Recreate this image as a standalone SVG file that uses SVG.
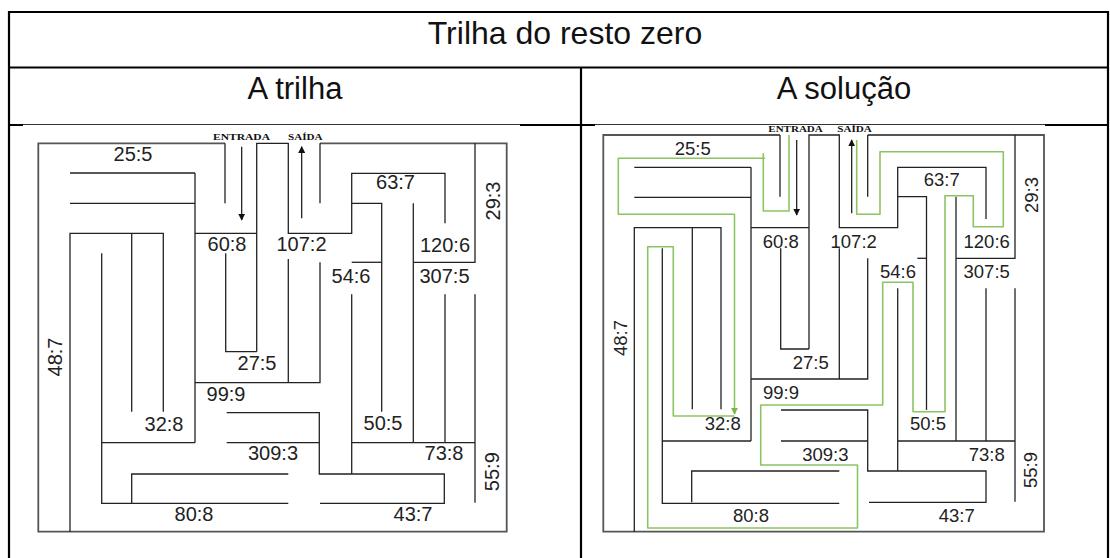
<svg xmlns="http://www.w3.org/2000/svg" width="1110" height="558" viewBox="0 0 1110 558">
<defs>
<style>
.tb{stroke:#000;stroke-width:2.2;fill:none}
.tn{stroke:#333;stroke-width:1;fill:none}
.hd{font-family:"Liberation Sans",Arial,sans-serif;fill:#111;text-anchor:middle}
.ob{stroke:#555;stroke-width:1.8;fill:none}
.w{stroke:#222;stroke-width:1.3;fill:none}
.lb{font-family:"Liberation Sans",Arial,sans-serif;fill:#222;text-anchor:middle;font-size:20px}
.rb{font-family:"Liberation Sans",Arial,sans-serif;fill:#222;text-anchor:middle;font-size:18.5px}
.io{font-family:"Liberation Serif","Times New Roman",serif;font-weight:bold;fill:#111;font-size:9px}
.ar{stroke:#111;stroke-width:1.2;fill:none}
.gp{stroke:#8cc463;stroke-width:1.6;fill:none;stroke-linejoin:round}
</style>
<marker id="ah" viewBox="0 0 10 10" refX="9" refY="5" markerWidth="7" markerHeight="7" markerUnits="userSpaceOnUse" orient="auto"><path d="M0,0 L10,5 L0,10 z" fill="#111"/></marker>
<marker id="gh" viewBox="0 0 10 10" refX="9" refY="5" markerWidth="7" markerHeight="7" markerUnits="userSpaceOnUse" orient="auto"><path d="M0,0 L10,5 L0,10 z" fill="#7ab648"/></marker>
</defs>
<rect width="1110" height="558" fill="#fff"/>

<g id="table">
<path class="tb" d="M9,558 V12 H1108 V558"/>
<path class="tb" d="M9,67.5 H1108"/>
<path class="tb" d="M581,67.5 V558"/>
<path class="tb" d="M9,125 H23 M520,125 H595 M1045,125 H1108"/>
<path class="tn" d="M23,124.5 H520 M595,124.5 H1045"/>
<text class="hd" x="565" y="44" font-size="32">Trilha do resto zero</text>
<text class="hd" x="295" y="98.5" font-size="31">A trilha</text>
<text class="hd" x="844" y="98.5" font-size="31">A solução</text>
</g>

<g id="maze-left">
<path class="ob" d="M225,143.3 H38.3 V531.7 H506.7 V143.3 H320"/>
<path class="w" d="M225,143.3 V203.3"/>
<path class="w" d="M320,143.3 V203.3"/>
<path class="w" d="M70,173 H195 M70,203.3 H195"/>
<path class="w" d="M195,173 V442.7"/>
<path class="w" d="M195,233.3 H256.7"/>
<path class="w" d="M256.7,351.7 V143.3 H288.3 V233.3 H351.7 V173.3 H445 V223.3"/>
<path class="w" d="M225.7,253.3 V351.7 H256.7"/>
<path class="w" d="M351.7,203.3 H381.7 V411.7"/>
<path class="w" d="M413.3,203.3 V442.7"/>
<path class="w" d="M351.7,262.3 H381.7"/>
<path class="w" d="M413.3,262.3 H475 V143.3"/>
<path class="w" d="M288.3,259 V382.7"/>
<path class="w" d="M195,382.7 H320 V262.3"/>
<path class="w" d="M351.7,294.3 V474"/>
<path class="w" d="M445,294.3 V442.7"/>
<path class="w" d="M475,294.3 V502.7"/>
<path class="w" d="M351.7,442.7 H475"/>
<path class="w" d="M101.7,253.3 V503.3 H288.3"/>
<path class="w" d="M70,531.7 V233.3 H163.3 V411.7"/>
<path class="w" d="M131.7,233.3 V411.7"/>
<path class="w" d="M101.7,442.7 H195"/>
<path class="w" d="M226.7,412.7 H319.3 V474 H444.3 V503.3 H320"/>
<path class="w" d="M226.7,442.7 H319.3"/>
<path class="w" d="M131.7,503.3 V474 H288.3"/>
<text class="lb" x="133" y="161">25:5</text>
<text class="lb" x="227" y="251">60:8</text>
<text class="lb" x="301.5" y="251">107:2</text>
<text class="lb" x="395.5" y="189">63:7</text>
<text class="lb" x="445" y="252">120:6</text>
<text class="lb" x="351" y="283">54:6</text>
<text class="lb" x="444.5" y="283">307:5</text>
<text class="lb" transform="translate(493,201) rotate(-90)" y="7">29:3</text>
<text class="lb" transform="translate(55,357) rotate(-90)" y="7">48:7</text>
<text class="lb" x="257" y="370">27:5</text>
<text class="lb" x="226" y="401">99:9</text>
<text class="lb" x="164" y="431">32:8</text>
<text class="lb" x="273" y="460">309:3</text>
<text class="lb" x="194" y="521">80:8</text>
<text class="lb" x="383" y="430">50:5</text>
<text class="lb" x="444" y="460">73:8</text>
<text class="lb" x="413" y="521">43:7</text>
<text class="lb" transform="translate(491.7,471.7) rotate(-90)" y="7">55:9</text>
<text class="io" x="213" y="140" textLength="57" lengthAdjust="spacingAndGlyphs">ENTRADA</text>
<text class="io" x="288" y="140" textLength="34.5" lengthAdjust="spacingAndGlyphs">SAÍDA</text>
</g>

<g id="maze-right">
<path class="ob" d="M780,135 H603.3 V531.7 H1044 V135 H867.7"/>
<path class="w" d="M780,135 V196.7"/>
<path class="w" d="M867.7,135 V196.7"/>
<path class="w" d="M809,349 V135 H839.3 V227.7 H897.7 V167.3 H986 V219"/>
<path class="w" d="M780.7,248.3 V349 H809"/>
<path class="w" d="M634.3,167.3 H751 M634.3,197.3 H751"/>
<path class="w" d="M751,167.3 V441"/>
<path class="w" d="M751,227.7 H809"/>
<path class="w" d="M634.3,531.7 V227.7 H721 V409.3"/>
<path class="w" d="M692.3,227.7 V409.3"/>
<path class="w" d="M662.3,248.3 V503.3 H839.3"/>
<path class="w" d="M662.3,441 H751"/>
<path class="w" d="M839.3,248.3 V379"/>
<path class="w" d="M751,379 H867.7 V258.3"/>
<path class="w" d="M897.7,196.7 H926.5 V410"/>
<path class="w" d="M956,196.7 V441"/>
<path class="w" d="M917.3,258.3 H926.5"/>
<path class="w" d="M956,258.3 H1015 V135"/>
<path class="w" d="M897.7,288.3 V471"/>
<path class="w" d="M986,288.3 V441"/>
<path class="w" d="M1015,288.3 V501.7"/>
<path class="w" d="M897.7,441 H1015"/>
<path class="w" d="M781,410 H867.7 V471 H986 V502.3 H869"/>
<path class="w" d="M781,441 H867.7"/>
<path class="w" d="M691.7,502.3 V471 H839.3"/>
<text class="rb" x="692.7" y="155">25:5</text>
<text class="rb" x="780.7" y="247.7">60:8</text>
<text class="rb" x="853.7" y="248">107:2</text>
<text class="rb" x="941.7" y="186">63:7</text>
<text class="rb" x="986.7" y="248.3">120:6</text>
<text class="rb" x="898" y="278.3">54:6</text>
<text class="rb" x="986.7" y="278">307:5</text>
<text class="rb" transform="translate(1031.7,195) rotate(-90)" y="6.5">29:3</text>
<text class="rb" transform="translate(620,338) rotate(-90)" y="6.5">48:7</text>
<text class="rb" x="810.7" y="369.3">27:5</text>
<text class="rb" x="781" y="399">99:9</text>
<text class="rb" x="722.7" y="430">32:8</text>
<text class="rb" x="825.3" y="460.7">309:3</text>
<text class="rb" x="751" y="521.7">80:8</text>
<text class="rb" x="928" y="430">50:5</text>
<text class="rb" x="986.7" y="460.7">73:8</text>
<text class="rb" x="956.7" y="521.7">43:7</text>
<text class="rb" transform="translate(1030.7,470) rotate(-90)" y="6.5">55:9</text>
<text class="io" x="768.3" y="132.3" textLength="54.5" lengthAdjust="spacingAndGlyphs">ENTRADA</text>
<text class="io" x="837.3" y="132.3" textLength="34.5" lengthAdjust="spacingAndGlyphs">SAÍDA</text>
</g>

<g id="connectors">
<path class="ar" d="M241.7,146.7 V220" marker-end="url(#ah)"/>
<path class="ar" d="M301.7,218.3 V146.7" marker-end="url(#ah)"/>
<path class="ar" d="M796.7,140 V215" marker-end="url(#ah)"/>
<path class="ar" d="M851.7,213.3 V140" marker-end="url(#ah)"/>
<path class="gp" d="M789,135 V211 H763.3 V153.3 M765,158.3 H618.3 V214.3 H734.5 V414" marker-end="url(#gh)"/>
<path class="gp" d="M734.5,416 H673.3 V246.7 H647.7 V528 H857.5 V465 H760.7 V405 H882.7 V282.3 H913 V411.7 H945 V195.7 H973.3 V226.7 H1003.3 V151.7 H880 V214.3 H856.7 V140"/>
</g>
</svg>
